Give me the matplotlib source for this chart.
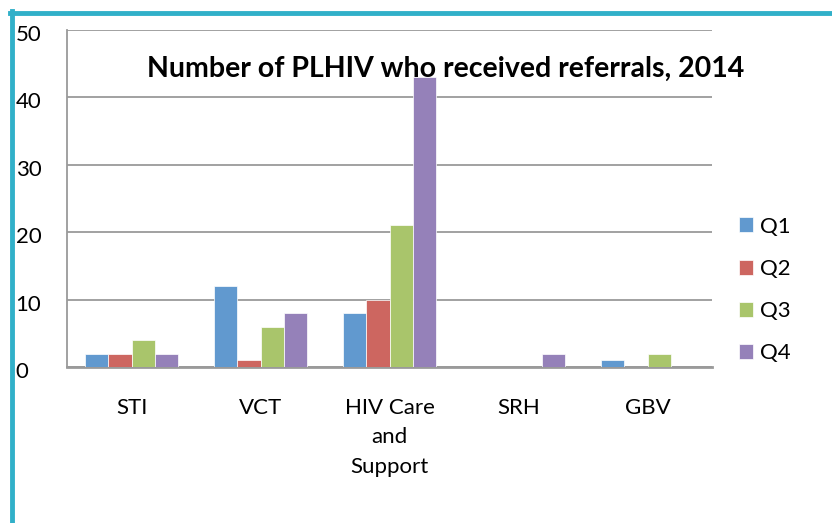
import matplotlib.pyplot as plt
import numpy as np
from matplotlib.lines import Line2D
from matplotlib.transforms import ScaledTranslation

categories = ["STI", "VCT", "HIV Care\nand\nSupport", "SRH", "GBV"]
quarters = ["Q1", "Q2", "Q3", "Q4"]
q1 = [2, 12, 8, 0, 1]
q2 = [2, 1, 10, 0, 0]
q3 = [4, 6, 21, 0, 2]
q4 = [2, 8, 43, 2, 0]
colors = ["#6199CF", "#CD6660", "#A9C56B", "#9581B9"]

plt.rcParams['font.family'] = ['Lato', 'DejaVu Sans']

fig = plt.figure(figsize=(8.32, 5.23), dpi=100)
ax = fig.add_axes([67/832, 1-367/523, 645/832, 337/523])

x = np.arange(len(categories))
w = 0.182
for i, (vals, c) in enumerate(zip([q1, q2, q3, q4], colors)):
    ax.bar(x + (i - 1.5) * w, vals, w, color=c, label=quarters[i],
           edgecolor="white", linewidth=0.5, zorder=3)

ax.set_xlim(-0.5, 4.5)
ax.set_ylim(0, 50)
ax.set_yticks(range(0, 51, 10))
ax.grid(axis="y", color="#9a9a9a", linewidth=1.3, zorder=0)
ax.set_xticks(x)
ax.set_xticklabels(categories, fontsize=16, linespacing=1.62)
ax.tick_params(axis="x", length=0, pad=22)
ax.tick_params(axis="y", length=0, pad=37, labelsize=16)
shift = ScaledTranslation(0, -3/100, fig.dpi_scale_trans)
for t in ax.get_yticklabels():
    t.set_horizontalalignment("left")
    t.set_transform(t.get_transform() + shift)
for s in ["top", "right"]:
    ax.spines[s].set_visible(False)
ax.spines["left"].set_color("#9a9a9a")
ax.spines["bottom"].set_color("#9a9a9a")
ax.spines["left"].set_linewidth(1.3)
ax.spines["bottom"].set_linewidth(2)

fig.text(446/832, 1-69/523, "Number of PLHIV who received referrals, 2014",
         ha="center", va="center", fontsize=20.5, fontweight="bold")

ax.legend(loc="center left", bbox_to_anchor=(730/832, 1-290/523),
          bbox_transform=fig.transFigure, frameon=False, fontsize=16,
          handlelength=0.65, handleheight=0.65, handletextpad=0.3,
          labelspacing=1.0, borderaxespad=0)

teal = "#31B0C9"
fig.add_artist(Line2D([11.5/832, 11.5/832], [0, 1-11/523], color=teal, linewidth=3.5))
fig.add_artist(Line2D([10/832, 1], [1-12.5/523, 1-12.5/523], color=teal, linewidth=3.5))

fig.savefig("out.png", dpi=100)
